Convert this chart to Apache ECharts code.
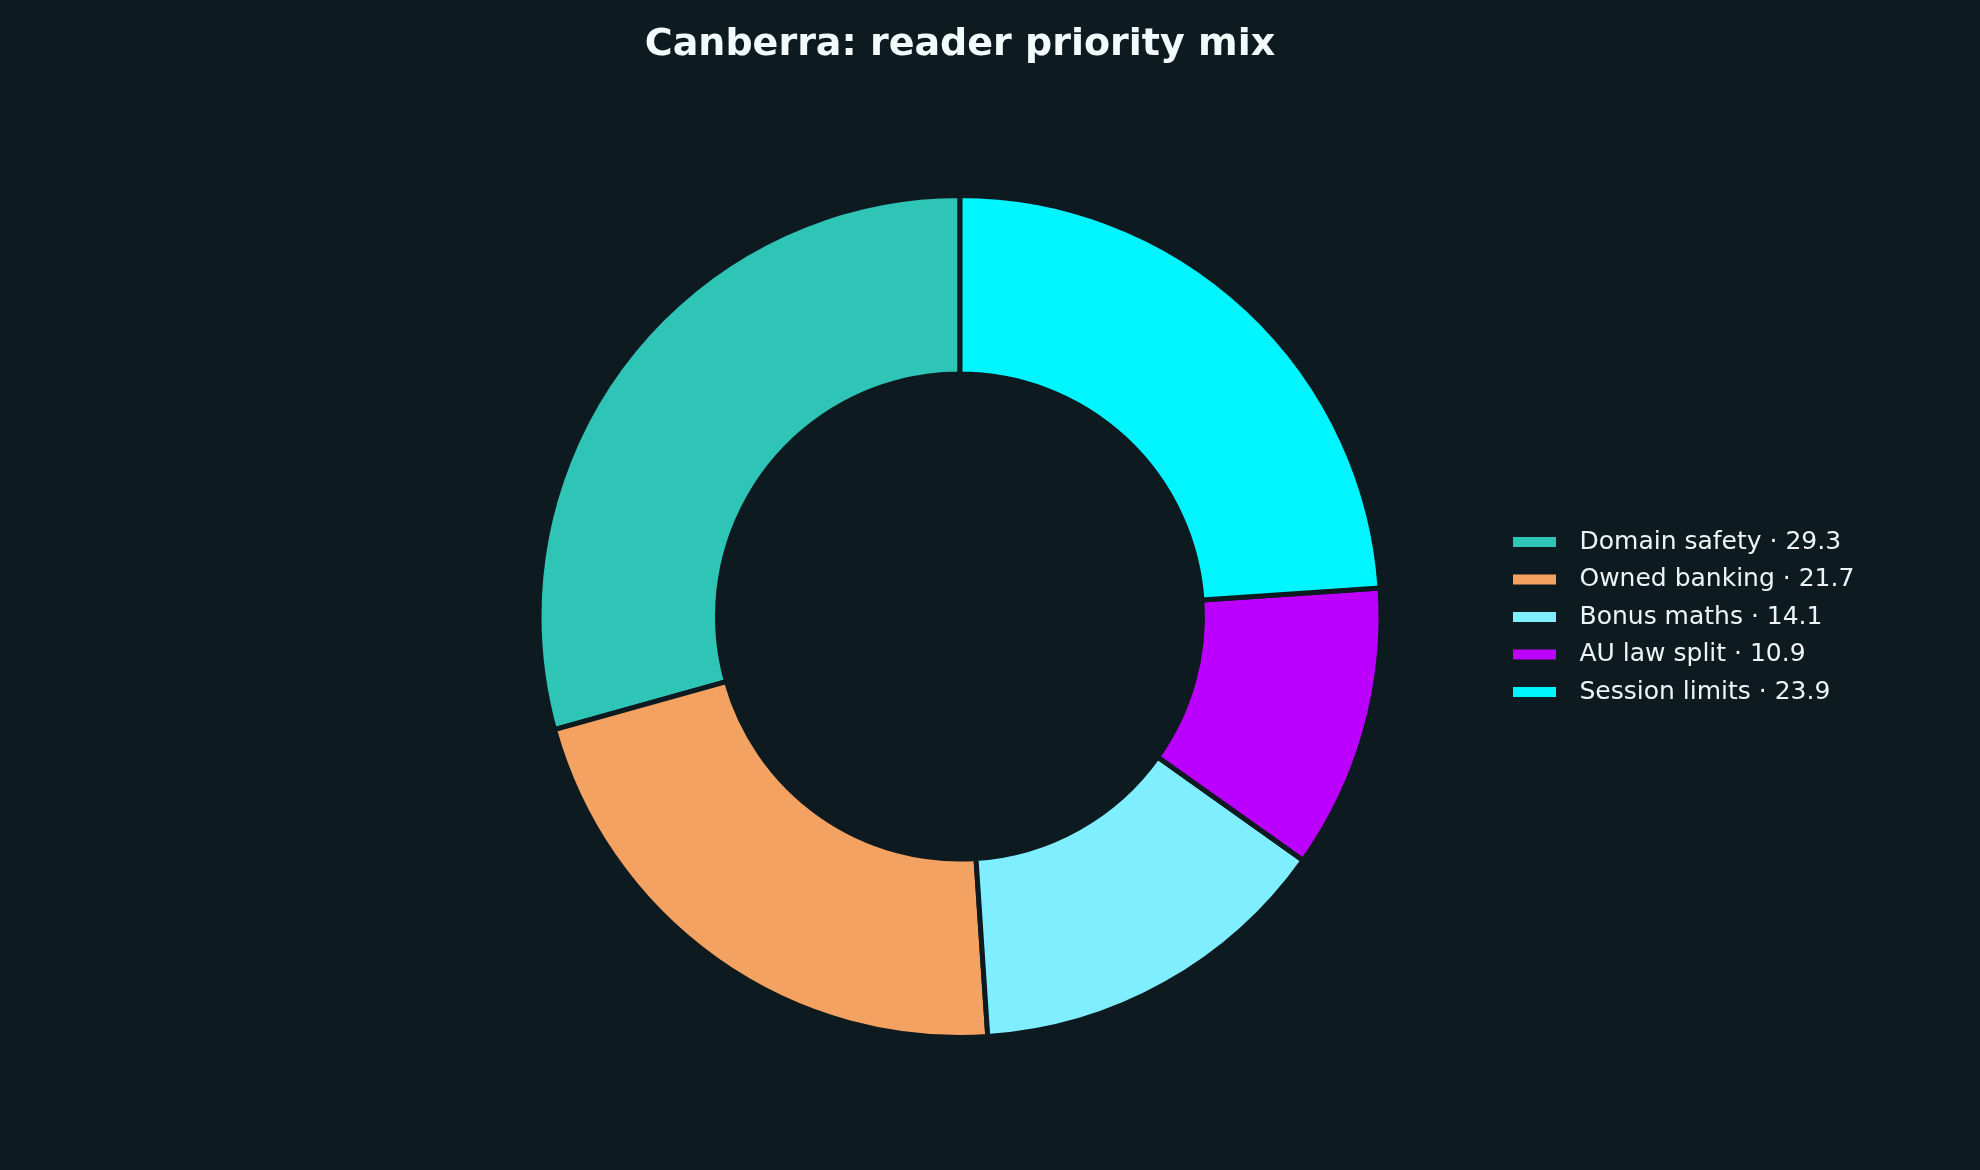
<!DOCTYPE html>
<html>
<head>
<meta charset="utf-8">
<title>Canberra: reader priority mix</title>
<script src="https://cdn.jsdelivr.net/npm/echarts@6/dist/echarts.min.js"></script>
<style>
	html, body { margin: 0; padding: 0; background: #0d1a1f; }
	#main { width: 1980px; height: 1170px; }
</style>
</head>
<body>
<div id="main"></div>
<script>
// data
var categories = ['Domain safety', 'Owned banking', 'Bonus maths', 'AU law split', 'Session limits'];
var values = [29.3, 21.7, 14.1, 10.9, 23.9];
var colors = ['#2ec4b6', '#f4a261', '#7feeff', '#bc00ff', '#00f5ff'];

var bg = '#0d1a1f';

var pieData = [];
for(var i = 0; i < categories.length; i++) {
	pieData.push({ name: categories[i], value: values[i] });
}

var myChart = echarts.init(document.getElementById('main'), null, { renderer: 'canvas' });
var option = {
	backgroundColor: bg,
	animation: false,
	color: colors,
	// title centred over the donut, not the page
	graphic: [{
		type: 'text',
		x: 960,
		y: 45.5,
		style: {
			text: 'Canberra: reader priority mix',
			fontFamily: 'DejaVu Sans',
			fontSize: 38,
			fontWeight: 'bold',
			fill: '#f2fafb',
			align: 'center',
			verticalAlign: 'middle'
		}
	}],
	legend: {
		orient: 'vertical',
		left: 1511,
		top: 529.5,
		padding: 0,
		itemWidth: 45,
		itemHeight: 12,
		itemGap: 12.5,
		icon: 'rect',
		formatter: function(name) {
			var idx = categories.indexOf(name);
			return name + ' · ' + values[idx].toFixed(1);
		},
		textStyle: {
			fontFamily: 'DejaVu Sans',
			fontSize: 25,
			color: '#eef4f5',
			padding: [0, 0, 0, 17.5]
		}
	},
	series: [{
		name: 'priority',
		type: 'pie',
		center: [960, 616.5],
		radius: [242.5, 421],
		startAngle: 90,
		clockwise: false,
		silent: true,
		label: { show: false },
		labelLine: { show: false },
		itemStyle: {
			borderColor: bg,
			borderWidth: 5
		},
		data: pieData
	}]
};
myChart.setOption(option);
</script>
</body>
</html>
